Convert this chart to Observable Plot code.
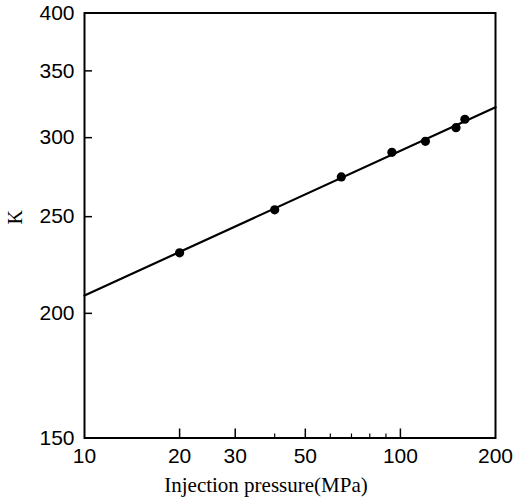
<!DOCTYPE html>
<html>
<head>
<meta charset="utf-8">
<script src="https://cdn.jsdelivr.net/npm/d3@7"></script>
<script src="https://cdn.jsdelivr.net/npm/@observablehq/plot@0.6"></script>
<style>
  html, body { margin: 0; padding: 0; background: #fff; }
</style>
</head>
<body>
<div id="chart"></div>
<script>
// Measured points: injection pressure (MPa) vs K
const pressure = [20, 40, 65, 94, 120, 150, 160];
const kValues = [230, 254, 274, 290, 297.5, 307, 313];

// Fitted straight line (log-log) end points
const fitPressure = [10, 200];
const fitK = [208.4, 321.8];

// Axis ticks
const xTicks = [10, 20, 30, 50, 100, 200];
const xInnerTicks = [20, 30, 50, 100];
const xMinorTicks = [40, 60, 70, 80, 90];
const yTicks = [150, 200, 250, 300, 350, 400];
const yInnerTicks = [200, 250, 300, 350];

const xLabel = "Injection pressure(MPa)";
const yLabel = "K";

const points = pressure.map((p, i) => ({p, k: kValues[i]}));
const fit = fitPressure.map((p, i) => ({p, k: fitK[i]}));

const sans = "'Liberation Sans', Arial, Helvetica, sans-serif";
const serif = "'Liberation Serif', 'Times New Roman', serif";

const chart = Plot.plot({
  width: 515,
  height: 504,
  marginLeft: 84,
  marginRight: 20,
  marginTop: 12.5,
  marginBottom: 66.5,
  style: {background: "#fff", color: "#000", fontFamily: sans},
  x: {type: "log", domain: [10, 200]},
  y: {type: "log", domain: [150, 400]},
  marks: [
    Plot.frame({stroke: "#000", strokeWidth: 2}),
    Plot.axisX({ticks: xTicks, tickFormat: d => String(d), tickSize: 0, tickPadding: 10,
      fontSize: 21, label: null}),
    Plot.axisY({ticks: yTicks, tickFormat: d => String(d), tickSize: 0, tickPadding: 10,
      fontSize: 21, label: null}),
    // inward ticks
    Plot.ruleX(xInnerTicks, {x: d => d, y1: 150, y2: 150, insetTop: -9, stroke: "#000", strokeWidth: 1.5}),
    Plot.ruleX(xMinorTicks, {x: d => d, y1: 150, y2: 150, insetTop: -4, stroke: "#000", strokeWidth: 1.2}),
    Plot.ruleY(yInnerTicks, {y: d => d, x1: 10, x2: 10, insetRight: -8, stroke: "#000", strokeWidth: 1.5}),
    // fitted line
    Plot.line(fit, {x: "p", y: "k", stroke: "#000", strokeWidth: 2.2}),
    // data points
    Plot.dot(points, {x: "p", y: "k", r: 4.6, fill: "#000", stroke: "none"}),
    // axis titles
    Plot.text([xLabel], {text: d => d, frameAnchor: "bottom", dx: -24, dy: 54,
      fontFamily: serif, fontSize: 21, fill: "#000"}),
    Plot.text([yLabel], {text: d => d, frameAnchor: "left", dx: -69, dy: -1, rotate: -90,
      fontFamily: serif, fontSize: 20, fill: "#000"})
  ]
});
document.getElementById("chart").appendChild(chart);
</script>
</body>
</html>
